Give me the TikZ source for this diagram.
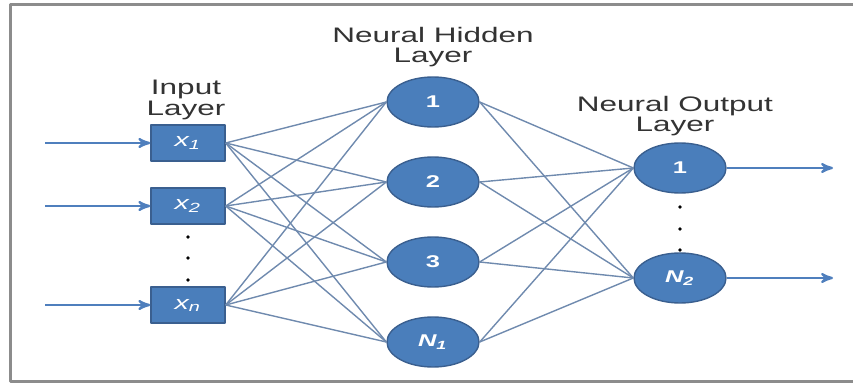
\documentclass[tikz,border=0pt]{standalone}
\usepackage{fontspec}
\setmainfont{Liberation Sans}
\usepackage{graphicx}
\usetikzlibrary{arrows,positioning,shapes}
\definecolor{nodeblue}{HTML}{4A7EBB}
\definecolor{nodeedge}{HTML}{3A5F8F}
\definecolor{linkblue}{HTML}{6F8AAE}
\definecolor{arrowblue}{HTML}{4F7FBD}
\newcommand{\wide}[1]{\scalebox{1.5}[1]{#1}}
\newcommand{\layerlbl}[2]{\wide{\begin{tabular}{@{}c@{}}#1\\#2\end{tabular}}}
\tikzset{
net/.style={x=0.5pt,y=-0.5pt,>=stealth',line join=round},
input/.style={rectangle,draw=nodeedge,fill=nodeblue,line width=0.7pt,
minimum width=37pt,minimum height=18pt,inner sep=0pt,text=white,
font=\fontsize{9.5}{10}\selectfont},
neuron/.style={ellipse,draw=nodeedge,fill=nodeblue,line width=0.7pt,
minimum width=46pt,minimum height=25pt,inner sep=0pt,text=white,
font=\fontsize{8.5}{10}\selectfont\bfseries},
layer/.style={inner sep=0pt,text=black!80,font=\fontsize{10.5}{10}\selectfont},
link/.style={draw=linkblue,line width=0.7pt},
feed/.style={->,draw=arrowblue,line width=1.1pt},
frame/.style={draw=black!45,line width=1.5pt},
}

\begin{document}
\begin{tikzpicture}[net]
    \useasboundingbox (0,0) rectangle (853,385);
    \draw[frame] (853,5) -- (10,5) -- (10,382) -- (853,382);

    % input layer
    \node[input] (x1) at (188,143) {\wide{\textit{x\textsubscript{1}}}};
    \node[input] (x2) at (188,206) {\wide{\textit{x\textsubscript{2}}}};
    \node[input] (xn) at (188,305) {\wide{\textit{x\textsubscript{n}}}};
    \node[layer] (inlbl) at (186,101) {\layerlbl{Input}{Layer}};

    % hidden layer
    \node[neuron] (h1) at (433,102) {\wide{1}};
    \node[neuron] (h2) at (433,182) {\wide{2}};
    \node[neuron] (h3) at (433,262) {\wide{3}};
    \node[neuron] (hn) at (433,342) {\wide{\textit{N\textsubscript{1}}}};
    \node[layer] (hidlbl) at (433,48) {\layerlbl{Neural Hidden}{Layer}};

    % output layer
    \node[neuron] (o1) at (680,168) {\wide{1}};
    \node[neuron] (on) at (680,278) {\wide{\textit{N\textsubscript{2}}}};
    \node[layer] (outlbl) at (675,117) {\layerlbl{Neural Output}{Layer}};

    \foreach \y in {237,258,280} \fill (188,\y) circle (0.9pt);
    \foreach \y in {207,229,250} \fill (680,\y) circle (0.9pt);

    \coordinate (x1in) at (45,143);
    \coordinate (x2in) at (45,206);
    \coordinate (xnin) at (45,305);
    \coordinate (o1out) at (833,168);
    \coordinate (onout) at (833,278);

    \foreach \i in {x1,x2,xn}
        \foreach \j in {h1,h2,h3,hn}
            \draw[link] (\i.east) -- (\j.west);
    \foreach \j in {h1,h2,h3,hn}
        \foreach \k in {o1,on}
            \draw[link] (\j.east) -- (\k.west);

    \draw[feed] (x1in) -- (x1);
    \draw[feed] (x2in) -- (x2);
    \draw[feed] (xnin) -- (xn);
    \draw[feed] (o1) -- (o1out);
    \draw[feed] (on) -- (onout);
\end{tikzpicture}
\end{document}
